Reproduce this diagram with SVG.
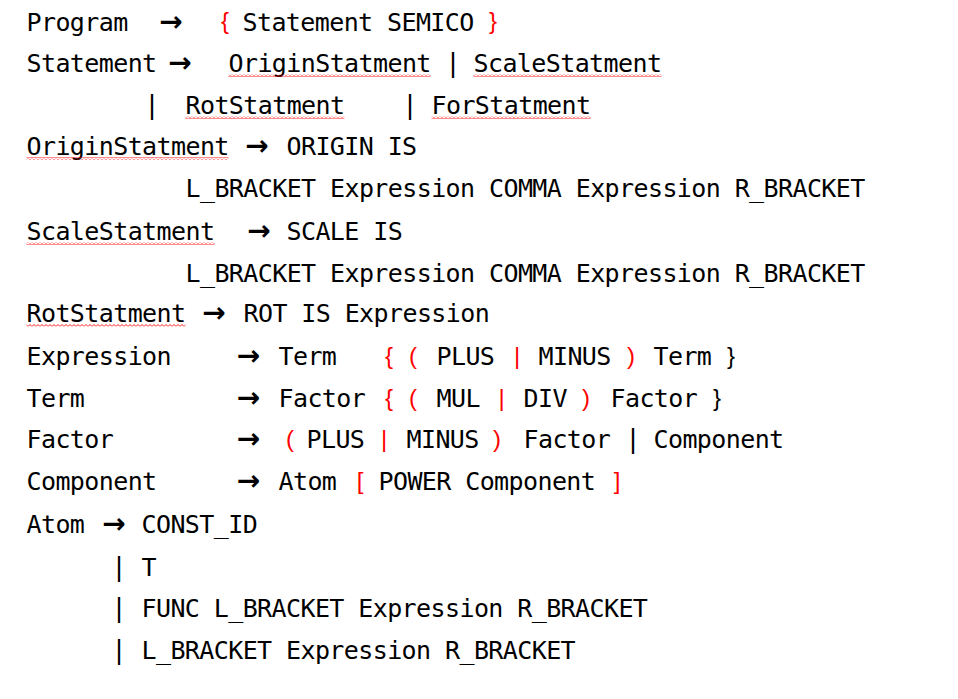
<svg xmlns="http://www.w3.org/2000/svg" width="958" height="699" viewBox="0 0 958 699">
<defs>
<style>
.t{font-family:"DejaVu Sans Mono","Liberation Mono",monospace;font-size:25px;letter-spacing:-0.6px;fill:#000}
.a{font-family:"DejaVu Sans",sans-serif;font-weight:bold;font-size:28px;text-anchor:middle;fill:#000}
.r{font-family:"Liberation Sans",sans-serif;font-size:24px;text-anchor:middle;fill:#f00}
.k{font-family:"Liberation Sans",sans-serif;font-size:24px;text-anchor:middle;fill:#000}
.b{font-family:"Liberation Sans",sans-serif;font-size:27px;text-anchor:middle;fill:#000}
.w{fill:url(#wave)}
</style>
<pattern id="wave" x="0" y="0" width="4" height="3" patternUnits="userSpaceOnUse">
<polyline points="0,2.5 2,0.5 4,2.5" fill="none" stroke="#f00" stroke-width="0.9"/>
</pattern>
</defs>
<rect width="958" height="699" fill="#fff"/>

<g id="row1">
<text class="t" x="26.5" y="31">Program</text>
<text class="a" x="171" y="31">→</text>
<text class="r" x="225" y="29">{</text>
<text class="t" x="242.5" y="31">Statement SEMICO</text>
<text class="r" x="493" y="29">}</text>
</g>

<g id="row2">
<text class="t" x="26.5" y="72">Statement</text>
<text class="a" x="180" y="72">→</text>
<text class="t" x="228.5" y="72">OriginStatment</text>
<text class="b" x="453" y="72">|</text>
<text class="t" x="473.5" y="72">ScaleStatment</text>
<rect class="w" x="228.5" y="74" width="202" height="3"/>
<rect class="w" x="473.5" y="74" width="188" height="3"/>
</g>

<g id="row3">
<text class="b" x="152" y="114">|</text>
<text class="t" x="185.5" y="114">RotStatment</text>
<text class="b" x="410" y="114">|</text>
<text class="t" x="431.5" y="114">ForStatment</text>
<rect class="w" x="185.5" y="116" width="159" height="3"/>
<rect class="w" x="431.5" y="116" width="159" height="3"/>
</g>

<g id="row4">
<text class="t" x="26.5" y="155">OriginStatment</text>
<text class="a" x="257" y="155">→</text>
<text class="t" x="286.5" y="155">ORIGIN IS</text>
<rect class="w" x="26.5" y="157" width="202" height="3"/>
</g>

<g id="row5">
<text class="t" x="185.5" y="197">L_BRACKET Expression COMMA Expression R_BRACKET</text>
</g>

<g id="row6">
<text class="t" x="26.5" y="240">ScaleStatment</text>
<text class="a" x="259" y="240">→</text>
<text class="t" x="286.5" y="240">SCALE IS</text>
<rect class="w" x="26.5" y="242" width="188" height="3"/>
</g>

<g id="row7">
<text class="t" x="185.5" y="281.5">L_BRACKET Expression COMMA Expression R_BRACKET</text>
</g>

<g id="row8">
<text class="t" x="26.5" y="322">RotStatment</text>
<text class="a" x="214" y="322">→</text>
<text class="t" x="243.5" y="322">ROT IS Expression</text>
<rect class="w" x="26.5" y="324" width="159" height="3"/>
</g>

<g id="row9">
<text class="t" x="26.5" y="365">Expression</text>
<text class="a" x="248.5" y="365">→</text>
<text class="t" x="278.5" y="365">Term</text>
<text class="r" x="389" y="364">{</text>
<text class="r" x="413" y="364">(</text>
<text class="t" x="436.5" y="365">PLUS</text>
<text class="r" x="517" y="364">|</text>
<text class="t" x="538.5" y="365">MINUS</text>
<text class="r" x="631" y="364">)</text>
<text class="t" x="653.5" y="365">Term</text>
<text class="k" x="731" y="364">}</text>
</g>

<g id="row10">
<text class="t" x="26.5" y="406.5">Term</text>
<text class="a" x="248.5" y="406.5">→</text>
<text class="t" x="278.5" y="406.5">Factor</text>
<text class="r" x="389" y="405.5">{</text>
<text class="r" x="413" y="405.5">(</text>
<text class="t" x="436.5" y="406.5">MUL</text>
<text class="r" x="501.5" y="405.5">|</text>
<text class="t" x="523.5" y="406.5">DIV</text>
<text class="r" x="586" y="405.5">)</text>
<text class="t" x="610.5" y="406.5">Factor</text>
<text class="k" x="717" y="405.5">}</text>
</g>

<g id="row11">
<text class="t" x="26.5" y="448">Factor</text>
<text class="a" x="248.5" y="448">→</text>
<text class="r" x="290" y="447">(</text>
<text class="t" x="306.5" y="448">PLUS</text>
<text class="r" x="384" y="447">|</text>
<text class="t" x="406.5" y="448">MINUS</text>
<text class="r" x="497" y="447">)</text>
<text class="t" x="523.5" y="448">Factor</text>
<text class="b" x="633" y="448">|</text>
<text class="t" x="653.5" y="448">Component</text>
</g>

<g id="row12">
<text class="t" x="26.5" y="490">Component</text>
<text class="a" x="248.5" y="490">→</text>
<text class="t" x="278.5" y="490">Atom</text>
<text class="r" x="360" y="489">[</text>
<text class="t" x="378.5" y="490">POWER Component</text>
<text class="r" x="617" y="489">]</text>
</g>

<g id="row13">
<text class="t" x="26.5" y="533">Atom</text>
<text class="a" x="114" y="533">→</text>
<text class="t" x="141.5" y="533">CONST_ID</text>
</g>

<g id="row14">
<text class="b" x="119" y="575.5">|</text>
<text class="t" x="141.5" y="575.5">T</text>
</g>

<g id="row15">
<text class="b" x="119" y="616.5">|</text>
<text class="t" x="141.5" y="616.5">FUNC L_BRACKET Expression R_BRACKET</text>
</g>

<g id="row16">
<text class="b" x="119" y="658.5">|</text>
<text class="t" x="141.5" y="658.5">L_BRACKET Expression R_BRACKET</text>
</g>
</svg>
